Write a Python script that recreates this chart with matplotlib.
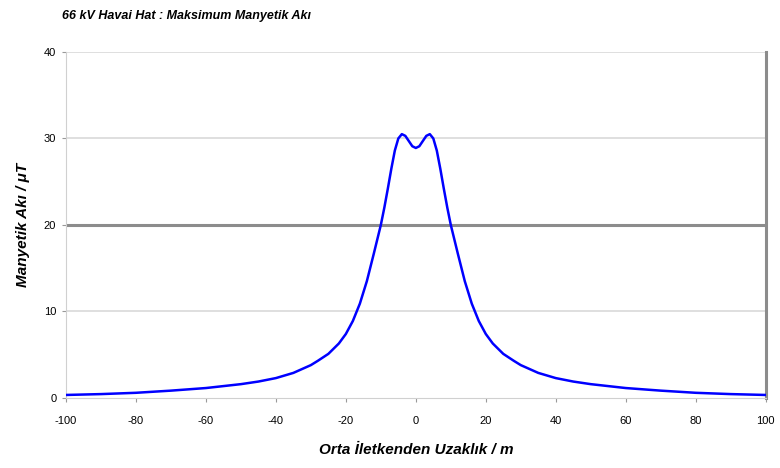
import matplotlib.pyplot as plt
import numpy as np

plt.rcParams['font.family'] = ['Liberation Sans', 'DejaVu Sans']
plt.rcParams['axes.unicode_minus'] = False

# half profile (x <= 0), mirrored for the right side
x_half = [-100, -90, -80, -70, -60, -50, -45, -40, -35, -30, -28, -25, -22, -20, -18,
          -16, -14, -12, -10, -9, -8, -7, -6, -5, -4, -3, -2, -1, 0]
y_half = [0.35, 0.45, 0.6, 0.85, 1.15, 1.6, 1.9, 2.3, 2.9, 3.8, 4.3, 5.1, 6.3, 7.4, 8.9,
          10.9, 13.5, 16.7, 20.0, 22.0, 24.2, 26.5, 28.6, 30.0, 30.5, 30.3, 29.7, 29.1, 28.9]

x = np.array(x_half + [-v for v in x_half[-2::-1]])
y = np.array(y_half + y_half[-2::-1])

xticks = [-100, -80, -60, -40, -20, 0, 20, 40, 60, 80, 100]
yticks = [0, 10, 20, 30, 40]

fig = plt.figure(figsize=(7.8, 4.68), dpi=100)
ax = fig.add_axes([0.0846, 0.1496, 0.897, 0.7394])

for v in [10, 30, 40]:
    ax.axhline(v, color='#d9d9d9', lw=1.2, zorder=1)
ax.axhline(20, color='#8c8c8c', lw=2.2, zorder=1)

ax.plot(x, y, color='#0000ff', lw=1.8, zorder=3, solid_joinstyle='round')

ax.set_xlim(-100, 100)
ax.set_ylim(0, 40)
ax.set_xticks(xticks)
ax.set_yticks(yticks)
ax.tick_params(axis='both', labelsize=8, colors='#999999', labelcolor='black', length=3)
ax.tick_params(axis='x', pad=10)
ax.tick_params(axis='y', pad=4)

ax.spines['top'].set_visible(False)
ax.spines['left'].set_color('#d0d0d0')
ax.spines['bottom'].set_color('#d0d0d0')
ax.spines['right'].set_color('#8c8c8c')
ax.spines['right'].set_linewidth(2.2)

ax.set_xlabel('Orta İletkenden Uzaklık / m', fontsize=11, fontstyle='italic', fontweight='bold', labelpad=12)
ax.set_ylabel('Manyetik Akı / μT', fontsize=11, fontstyle='italic', fontweight='bold', labelpad=10)
fig.text(0.079, 0.965, '66 kV Havai Hat : Maksimum Manyetik Akı', fontsize=9,
         fontstyle='italic', fontweight='bold', va='center')

plt.savefig('out.png', dpi=100)
